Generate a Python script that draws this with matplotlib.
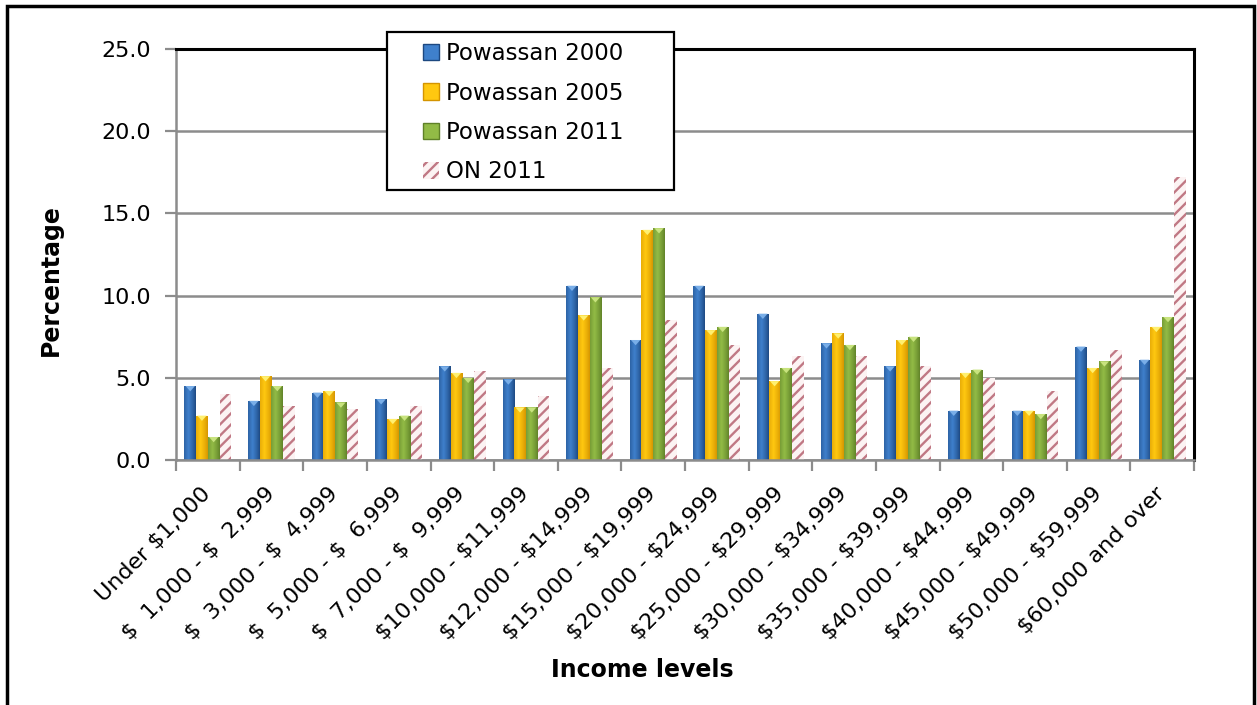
import numpy as np
import matplotlib
matplotlib.use("Agg")
import matplotlib.pyplot as plt
from matplotlib.patches import Patch, Rectangle, Polygon
from matplotlib.colors import to_rgb

plt.rcParams['text.parse_math'] = False
plt.rcParams['font.family'] = ['DejaVu Sans']
plt.rcParams['hatch.linewidth'] = 1.7

categories = ["Under $1,000", "$  1,000 - $  2,999", "$  3,000 - $  4,999",
              "$  5,000 - $  6,999", "$  7,000 - $  9,999", "$10,000 - $11,999",
              "$12,000 - $14,999", "$15,000 - $19,999", "$20,000 - $24,999",
              "$25,000 - $29,999", "$30,000 - $34,999", "$35,000 - $39,999",
              "$40,000 - $44,999", "$45,000 - $49,999", "$50,000 - $59,999",
              "$60,000 and over"]
series_names = ["Powassan 2000", "Powassan 2005", "Powassan 2011", "ON 2011"]
pow_2000 = [4.5, 3.6, 4.1, 3.7, 5.7, 4.9, 10.6, 7.3, 10.6, 8.9, 7.1, 5.7, 3.0, 3.0, 6.9, 6.1]
pow_2005 = [2.7, 5.1, 4.2, 2.5, 5.3, 3.2, 8.8, 14.0, 7.9, 4.8, 7.7, 7.3, 5.3, 3.0, 5.6, 8.1]
pow_2011 = [1.4, 4.5, 3.5, 2.7, 5.0, 3.2, 9.9, 14.1, 8.1, 5.6, 7.0, 7.5, 5.5, 2.8, 6.0, 8.7]
on_2011 = [4.0, 3.3, 3.1, 3.3, 5.4, 3.9, 5.6, 8.5, 7.0, 6.3, 6.3, 5.7, 5.0, 4.2, 6.7, 17.2]
yticks = [0, 5, 10, 15, 20, 25]

# (edge shade, centre highlight, bevel tip) for the three solid series
solid_styles = [
    ("#1d4880", "#3f80cc", "#79aee8"),
    ("#d49400", "#ffc810", "#fff070"),
    ("#5f8128", "#92bb46", "#c8e37e"),
]
on_face = "#fcf3f3"
on_hatch = "#c07884"
grid_grey = "#8c8c8c"

fig = plt.figure(figsize=(12.57, 7.05), dpi=100)
ax = fig.add_axes([176 / 1257, 1 - 460 / 705, (1194 - 176) / 1257, (460 - 49) / 705])

x = np.arange(len(categories))
width = 0.184
offsets = (np.arange(4) - 1.5) * width


def shade_row(edge, centre, n=64):
    t = np.linspace(0, 1, n)
    f = np.clip(1 - np.abs(t - 0.38) / 0.62, 0, 1) ** 0.8
    e = np.array(to_rgb(edge))
    c = np.array(to_rgb(centre))
    row = e[None, :] + (c - e)[None, :] * f[:, None]
    return row[None, :, :]


values = [pow_2000, pow_2005, pow_2011]
for k, vals in enumerate(values):
    edge, centre, tip = solid_styles[k]
    bars = ax.bar(x + offsets[k], vals, width, color=centre, linewidth=0, zorder=2)
    img = shade_row(edge, centre)
    for b in bars:
        x0, w, h = b.get_x(), b.get_width(), b.get_height()
        im = ax.imshow(img, extent=(x0, x0 + w, 0, h), aspect='auto',
                       interpolation='bilinear', zorder=2.1)
        im.set_clip_path(b)
        d = 0.32
        tri = Polygon([(x0 + 0.1 * w, h), (x0 + 0.9 * w, h), (x0 + 0.5 * w, h - d)],
                      closed=True, facecolor=tip, edgecolor='none', zorder=2.2)
        ax.add_patch(tri)

ax.bar(x + offsets[3], on_2011, width, facecolor=on_face, edgecolor=on_hatch,
       hatch='///', linewidth=0, zorder=2)

ax.set_xlim(-0.5, len(categories) - 0.5)
ax.set_ylim(0, 25)
ax.set_yticks(yticks)
ax.set_yticklabels([f"{v:.1f}" for v in yticks], fontsize=16)
ax.yaxis.grid(True, color=grid_grey, linewidth=1.8, zorder=0)
ax.set_axisbelow(True)

ax.set_xticks(x)
ax.set_xticklabels(categories, rotation=45, ha='right', va='center',
                   rotation_mode='anchor', fontsize=16)
ax.set_xticks(np.arange(len(categories) + 1) - 0.5, minor=True)
ax.tick_params(axis='x', which='major', length=0, pad=22)
ax.tick_params(axis='x', which='minor', length=8, width=1.6, color=grid_grey)
ax.tick_params(axis='y', length=8, width=1.6, color=grid_grey, pad=10)

for s in ('left', 'bottom'):
    ax.spines[s].set_color(grid_grey)
    ax.spines[s].set_linewidth(1.8)
for s in ('top', 'right'):
    ax.spines[s].set_color('black')
    ax.spines[s].set_linewidth(2.2)

fig.text(51 / 1257, 1 - 280 / 705, "Percentage", rotation=90, fontsize=17,
         fontweight='bold', ha='center', va='center')
fig.text(642 / 1257, 1 - 670 / 705, "Income levels", fontsize=17,
         fontweight='bold', ha='center', va='center')

# legend: white box with a black border, entries placed inside it
fig.add_artist(Rectangle((387 / 1257, 1 - 190 / 705), (674 - 387) / 1257, (190 - 32) / 705,
                         transform=fig.transFigure, facecolor='white', edgecolor='black',
                         linewidth=1.6, zorder=4))
handles = [Patch(facecolor=solid_styles[k][1], edgecolor=solid_styles[k][0], linewidth=1)
           for k in range(3)]
handles.append(Patch(facecolor=on_face, edgecolor=on_hatch, hatch='///', linewidth=0))
leg = fig.legend(handles, series_names, loc='upper left',
                 bbox_to_anchor=(423 / 1257, 1 - 42 / 705),
                 fontsize=16.5, frameon=False, borderaxespad=0, borderpad=0,
                 handlelength=0.7, handleheight=0.7, handletextpad=0.3,
                 labelspacing=0.72)
leg.set_zorder(5)

# outer border around the figure
fig.add_artist(Rectangle((7 / 1257, -0.05), (1254 - 7) / 1257, 1 - 6 / 705 + 0.05,
                         transform=fig.transFigure, fill=False, edgecolor='black',
                         linewidth=2.5))

fig.savefig("out.png", dpi=100)
